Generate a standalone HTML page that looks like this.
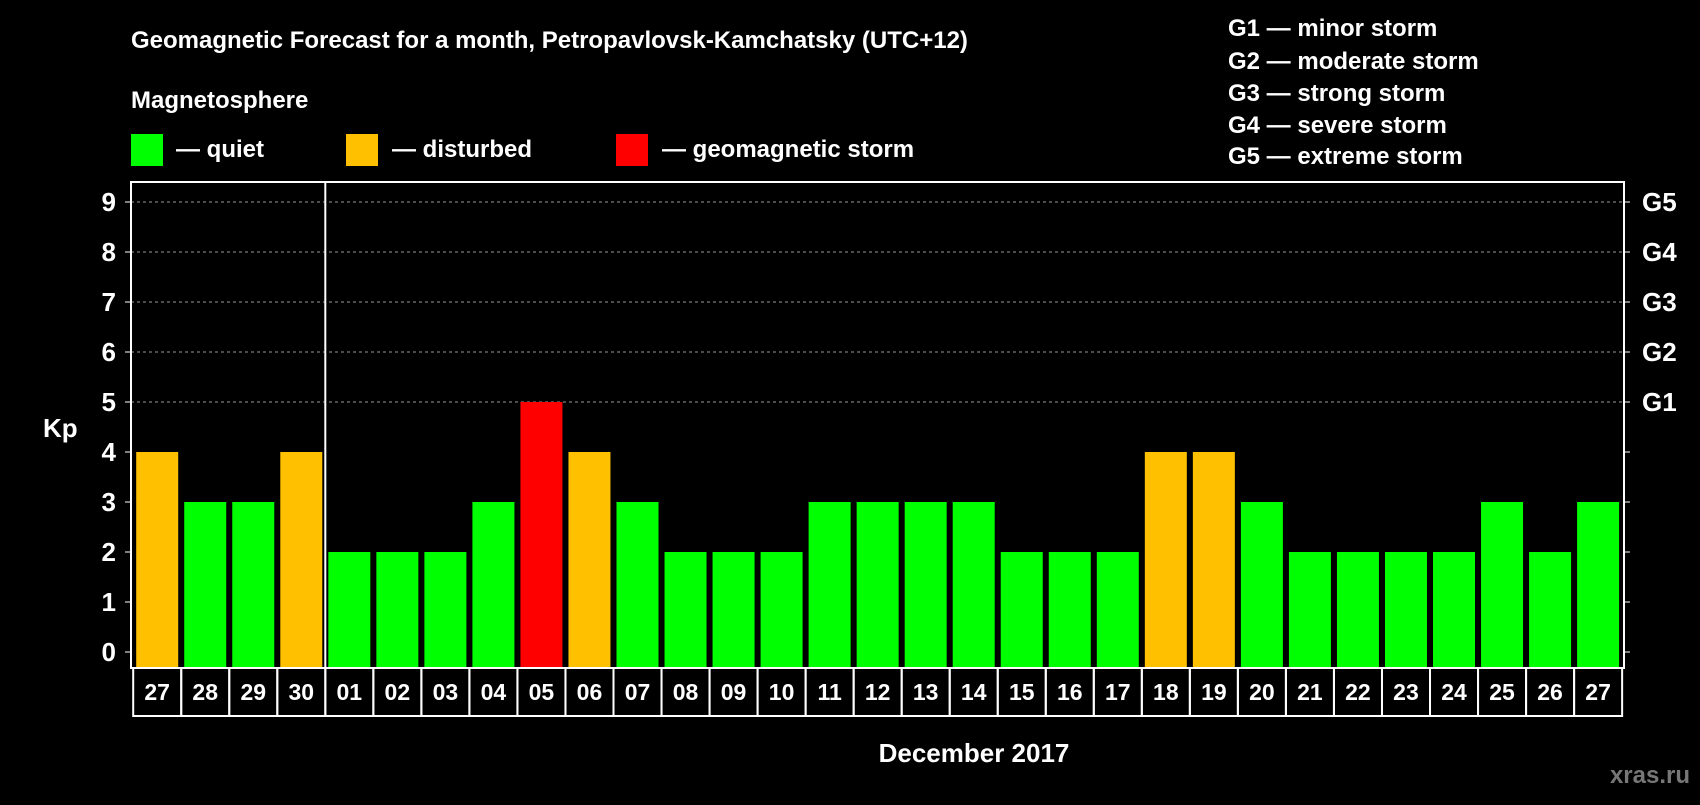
<!DOCTYPE html>
<html><head><meta charset="utf-8"><style>
body{margin:0;background:#000;width:1700px;height:800px;overflow:hidden;font-family:"Liberation Sans",sans-serif;font-weight:bold;color:#fff}
svg text{font-family:"Liberation Sans",sans-serif;font-weight:bold;fill:#fff}
</style></head><body>
<svg id="c" width="1700" height="800">
<text x="131" y="48" font-size="24">Geomagnetic Forecast for a month, Petropavlovsk-Kamchatsky (UTC+12)</text>
<text x="131" y="108" font-size="24">Magnetosphere</text>
<rect x="131" y="134" width="32" height="32" fill="#00ff00"/>
<text x="176" y="157" font-size="24">— quiet</text>
<rect x="346" y="134" width="32" height="32" fill="#ffc000"/>
<text x="392" y="157" font-size="24">— disturbed</text>
<rect x="616" y="134" width="32" height="32" fill="#ff0000"/>
<text x="662" y="157" font-size="24">— geomagnetic storm</text>
<g font-size="24">
<text x="1228" y="36">G1 — minor storm</text>
<text x="1228" y="69">G2 — moderate storm</text>
<text x="1228" y="101">G3 — strong storm</text>
<text x="1228" y="133">G4 — severe storm</text>
<text x="1228" y="164">G5 — extreme storm</text>
</g>
<text x="43" y="437" font-size="26">Kp</text>
<text x="974" y="762" font-size="26" text-anchor="middle">December 2017</text>
<text x="1690" y="783" font-size="24" fill="#777" style="fill:#777" text-anchor="end">xras.ru</text>
<g id="plot"></g>
</svg>
<script>
const days=["27","28","29","30","01","02","03","04","05","06","07","08","09","10","11","12","13","14","15","16","17","18","19","20","21","22","23","24","25","26","27"];
const kp=[4,3,3,4,2,2,2,3,5,4,3,2,2,2,3,3,3,3,2,2,2,4,4,3,2,2,2,2,3,2,3];
const yTicks=[0,1,2,3,4,5,6,7,8,9];
const gLabels=[[5,"G1"],[6,"G2"],[7,"G3"],[8,"G4"],[9,"G5"]];
const NS="http://www.w3.org/2000/svg";
const L=131,R=1624,T=182,B=668;
const y=v=>652-v*50;
const x=i=>157.2+i*48.03;
const g=document.getElementById('plot');
function mk(t,a){const e=document.createElementNS(NS,t);for(const k in a)e.setAttribute(k,a[k]);g.appendChild(e);return e;}
yTicks.forEach(v=>{
 if(v>=5){const ln=mk('line',{x1:L,x2:R,y1:y(v),y2:y(v),stroke:'#999','stroke-dasharray':'3,3','stroke-width':1});
 
 }
 const t1=mk('line',{x1:L-6,x2:L,y1:y(v),y2:y(v),stroke:'#fff'});
 
 
 const t2=mk('line',{x1:R,x2:R+6,y1:y(v),y2:y(v),stroke:'#fff'});
 
 
 const tx=mk('text',{x:116,y:y(v)+9,'font-size':26,'text-anchor':'end'});tx.textContent=v;
 
 
});
gLabels.forEach(([v,s])=>{const tx=mk('text',{x:1642,y:y(v)+9,'font-size':26});tx.textContent=s;
 
 });
kp.forEach((v,i)=>{
 const c=v>=5?'#ff0000':v>=4?'#ffc000':'#00ff00';
 const r=mk('rect',{x:x(i)-21,y:y(v),width:42,height:B-y(v)-1,fill:c});
 
 
 const b=mk('rect',{x:x(i)-24,y:B,width:48.03,height:48,fill:'none',stroke:'#fff','stroke-width':2});
 
 
 const tx=mk('text',{x:x(i),y:B+32,'font-size':23,'text-anchor':'middle'});tx.textContent=days[i];
 
 
});
const fr=mk('rect',{x:L,y:T,width:R-L,height:B-T,fill:'none',stroke:'#fff','stroke-width':2});


const dv=mk('line',{x1:(x(3)+x(4))/2,x2:(x(3)+x(4))/2,y1:T,y2:B,stroke:'#fff','stroke-width':2});


</script>
</body></html>
